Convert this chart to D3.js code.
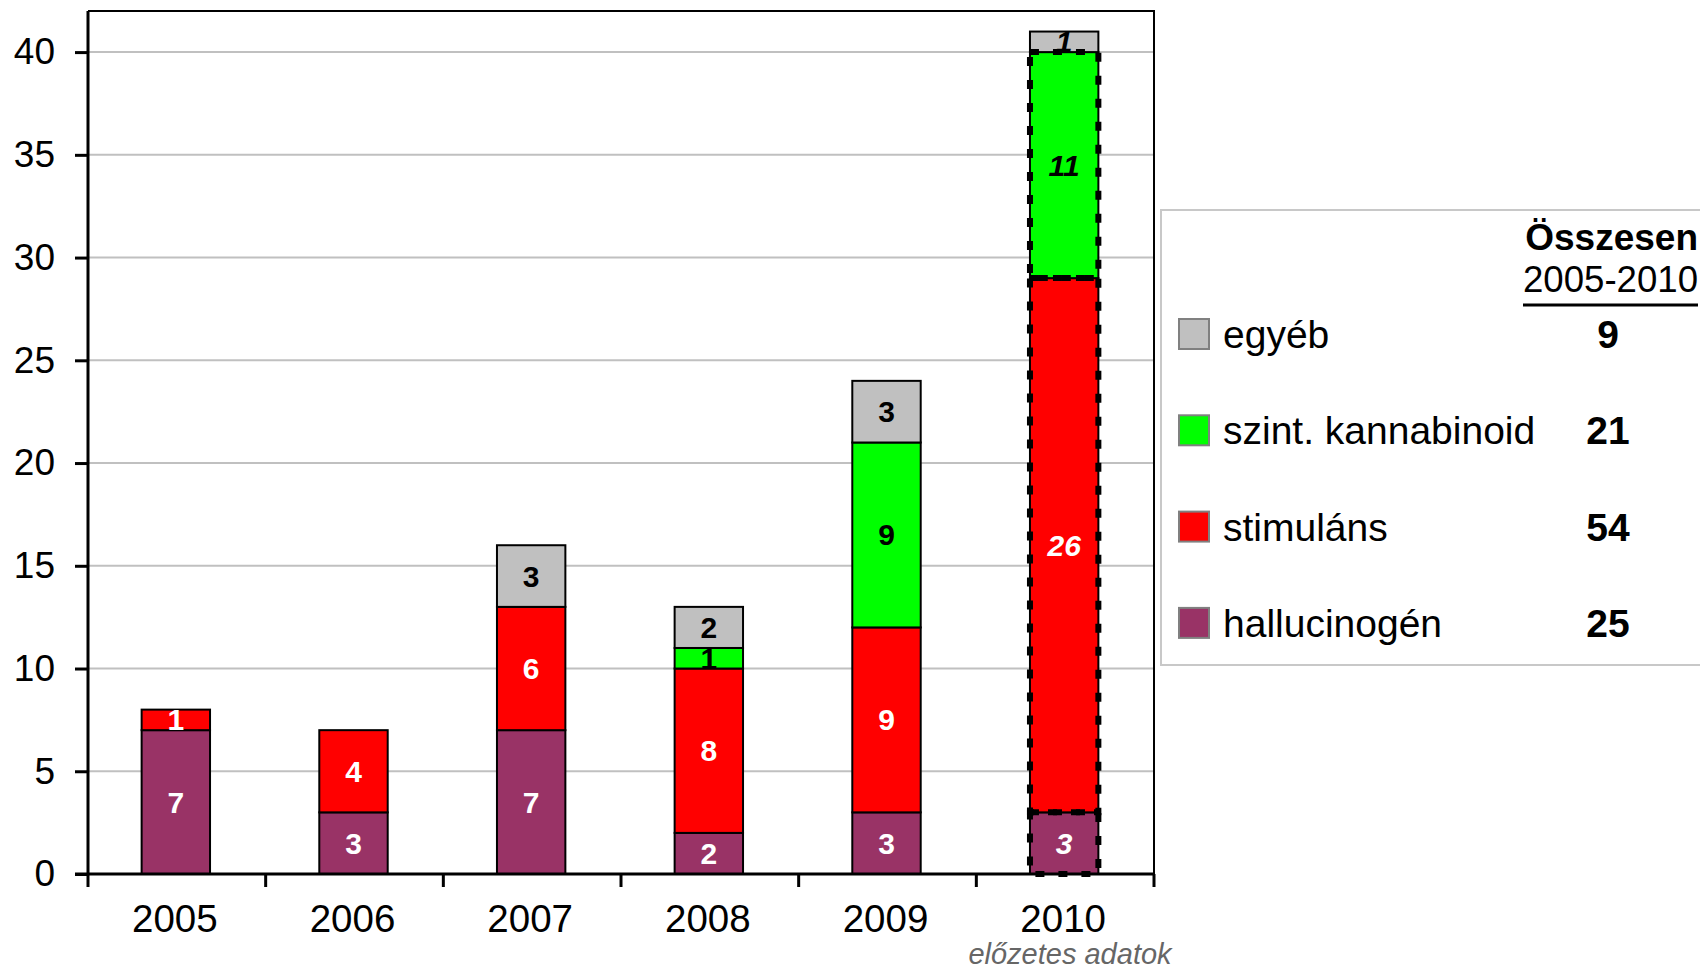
<!DOCTYPE html>
<html>
<head>
<meta charset="utf-8">
<script src="https://cdn.jsdelivr.net/npm/d3@7"></script>
<style>
  body { margin: 0; background: #fff; }
  text { font-family: "Liberation Sans", Arial, sans-serif; }
</style>
</head>
<body>
<svg id="canvas"></svg>
<script>
// chart data
const years = ['2005', '2006', '2007', '2008', '2009', '2010'];
const seriesKeys = ['hallucinogen', 'stimulans', 'kannabinoid', 'egyeb'];
const seriesNames = ['hallucinogén', 'stimuláns', 'szint. kannabinoid', 'egyéb'];
const seriesColors = ['#993366', '#ff0000', '#00ff00', '#c0c0c0'];
const labelColors = ['#fff', '#fff', '#000', '#000'];
const hallucinogen = [7, 3, 7, 2, 3, 3];
const stimulans = [1, 4, 6, 8, 9, 26];
const kannabinoid = [0, 0, 0, 1, 9, 11];
const egyeb = [0, 0, 3, 2, 3, 1];
const yTicks = [0, 5, 10, 15, 20, 25, 30, 35, 40];
const preliminaryYear = '2010';

const width = 1700;
const height = 972;
const plotLeft = 88;
const plotRight = 1154;
const plotTop = 11;
const plotBottom = 874;

let canvas = d3.select('#canvas')
  .attr('width', width)
  .attr('height', height);

let rows = years.map((year, i) => ({
  year: year,
  hallucinogen: hallucinogen[i],
  stimulans: stimulans[i],
  kannabinoid: kannabinoid[i],
  egyeb: egyeb[i]
}));

let stacked = d3.stack().keys(seriesKeys)(rows);

let xScale = d3.scaleBand()
  .domain(years)
  .range([plotLeft, plotRight]);

let yScale = d3.scaleLinear()
  .domain([0, 42])
  .range([plotBottom, plotTop]);

const barWidth = xScale.bandwidth() * 0.385;

// gridlines
canvas.append('g')
  .selectAll('line')
  .data(yTicks.filter(t => t > 0))
  .enter()
  .append('line')
  .attr('x1', plotLeft)
  .attr('x2', plotRight)
  .attr('y1', d => yScale(d))
  .attr('y2', d => yScale(d))
  .attr('stroke', '#c0c0c0')
  .attr('stroke-width', 2);

// frame top + right
canvas.append('path')
  .attr('d', `M${plotLeft},${plotTop}H${plotRight}V${plotBottom}`)
  .attr('fill', 'none')
  .attr('stroke', '#000')
  .attr('stroke-width', 2);

// bars
let segs = [];
stacked.forEach((layer, si) => {
  layer.forEach((d) => {
    let v = d[1] - d[0];
    if (v > 0) {
      segs.push({ si: si, year: d.data.year, y0: d[0], y1: d[1], value: v });
    }
  });
});

let barX = (year) => xScale(year) + xScale.bandwidth() / 2 - barWidth / 2 - 1;

canvas.append('g')
  .selectAll('rect')
  .data(segs)
  .enter()
  .append('rect')
  .attr('x', d => barX(d.year))
  .attr('width', barWidth)
  .attr('y', d => yScale(d.y1))
  .attr('height', d => yScale(d.y0) - yScale(d.y1))
  .attr('fill', d => seriesColors[d.si])
  .attr('stroke', '#000')
  .attr('stroke-width', 2);

// dotted outline on preliminary segments
canvas.append('g')
  .selectAll('rect')
  .data(segs.filter(d => d.year === preliminaryYear && d.si < 3))
  .enter()
  .append('rect')
  .attr('x', d => barX(d.year))
  .attr('width', barWidth)
  .attr('y', d => yScale(d.y1))
  .attr('height', d => yScale(d.y0) - yScale(d.y1))
  .attr('fill', 'none')
  .attr('stroke', '#000')
  .attr('stroke-width', 6)
  .attr('stroke-dasharray', '9,14');

// segment labels
canvas.append('g')
  .selectAll('text')
  .data(segs)
  .enter()
  .append('text')
  .attr('x', d => barX(d.year) + barWidth / 2)
  .attr('y', d => yScale((d.y0 + d.y1) / 2) + 10.5)
  .attr('text-anchor', 'middle')
  .attr('font-size', '30px')
  .attr('font-weight', 'bold')
  .attr('font-style', d => d.year === preliminaryYear ? 'italic' : 'normal')
  .attr('fill', d => labelColors[d.si])
  .text(d => d.value);

// y axis
let yAxis = d3.axisLeft(yScale)
  .tickValues(yTicks)
  .tickSize(13)
  .tickPadding(20);

let yg = canvas.append('g')
  .attr('transform', `translate(${plotLeft}, 0)`)
  .call(yAxis);
yg.select('.domain')
  .attr('d', `M0,${plotTop}V${plotBottom}`)
  .attr('stroke-width', 3);
yg.selectAll('.tick line').attr('stroke-width', 3);
yg.selectAll('.tick text')
  .attr('font-size', '37px')
  .attr('fill', '#000')
  .attr('font-family', '"Liberation Sans", Arial, sans-serif');

// x axis
canvas.append('line')
  .attr('x1', plotLeft - 13)
  .attr('x2', plotRight)
  .attr('y1', plotBottom)
  .attr('y2', plotBottom)
  .attr('stroke', '#000')
  .attr('stroke-width', 3);

canvas.append('g')
  .selectAll('line')
  .data(years.map(y => xScale(y)).concat([xScale.range()[1]]))
  .enter()
  .append('line')
  .attr('x1', d => d)
  .attr('x2', d => d)
  .attr('y1', plotBottom)
  .attr('y2', plotBottom + 13)
  .attr('stroke', '#000')
  .attr('stroke-width', 3);

canvas.append('g')
  .selectAll('text')
  .data(years)
  .enter()
  .append('text')
  .attr('x', d => xScale(d) + xScale.bandwidth() / 2 - 2)
  .attr('y', 932)
  .attr('text-anchor', 'middle')
  .attr('font-size', '38.5px')
  .text(d => d);

canvas.append('text')
  .attr('x', 1070)
  .attr('y', 964)
  .attr('text-anchor', 'middle')
  .attr('font-size', '29px')
  .attr('font-style', 'italic')
  .attr('fill', '#666')
  .text('előzetes adatok');

// legend
let legend = canvas.append('g');
legend.append('rect')
  .attr('x', 1161)
  .attr('y', 210)
  .attr('width', 600)
  .attr('height', 455)
  .attr('fill', '#fff')
  .attr('stroke', '#c8c8c8')
  .attr('stroke-width', 2);

legend.append('text')
  .attr('x', 1698)
  .attr('y', 250)
  .attr('text-anchor', 'end')
  .attr('font-size', '37px')
  .attr('font-weight', 'bold')
  .text('Összesen');

legend.append('text')
  .attr('x', 1698)
  .attr('y', 292)
  .attr('text-anchor', 'end')
  .attr('font-size', '37px')
  .attr('textLength', 175)
  .attr('lengthAdjust', 'spacingAndGlyphs')
  .text('2005-2010');

legend.append('line')
  .attr('x1', 1523)
  .attr('x2', 1698)
  .attr('y1', 305)
  .attr('y2', 305)
  .attr('stroke', '#000')
  .attr('stroke-width', 3);

const legendOrder = [3, 2, 1, 0];
const seriesData = [hallucinogen, stimulans, kannabinoid, egyeb];

let items = legend.selectAll('.item')
  .data(legendOrder)
  .enter()
  .append('g')
  .attr('class', 'item')
  .attr('transform', (d, i) => `translate(0, ${334 + i * 96.3})`);

items.append('rect')
  .attr('x', 1179)
  .attr('y', -15)
  .attr('width', 30)
  .attr('height', 30)
  .attr('fill', d => seriesColors[d])
  .attr('stroke', '#808080')
  .attr('stroke-width', 2);

items.append('text')
  .attr('x', 1223)
  .attr('y', 14)
  .attr('font-size', '39px')
  .text(d => seriesNames[d]);

items.append('text')
  .attr('x', 1608)
  .attr('y', 14)
  .attr('text-anchor', 'middle')
  .attr('font-size', '39px')
  .attr('font-weight', 'bold')
  .text(d => d3.sum(seriesData[d]));
</script>
</body>
</html>
